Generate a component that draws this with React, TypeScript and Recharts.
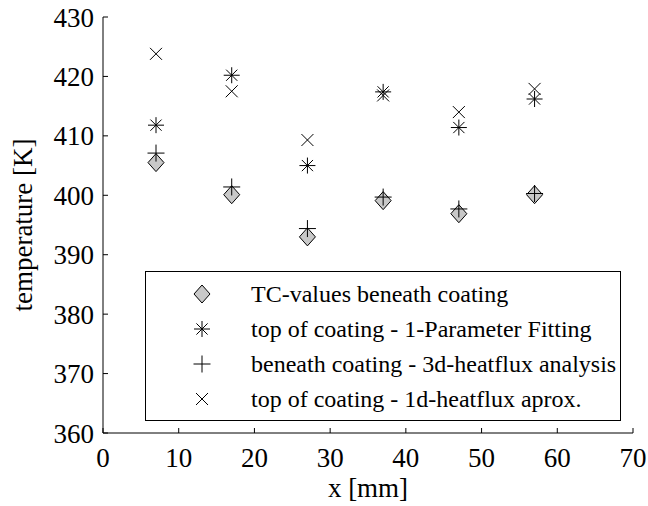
import React from "react";
import {
  ScatterChart,
  Scatter,
  XAxis,
  YAxis,
  Legend,
} from "recharts";

// measurement positions along the sample [mm]
const xPositions = [7, 17, 27, 37, 47, 57];

// temperatures [K]
const tcValues = [405.5, 400.1, 393.0, 399.1, 396.9, 400.1];
const fittingTop = [411.8, 420.2, 405.0, 417.4, 411.4, 416.2];
const heatflux3d = [407.1, 401.4, 394.4, 399.7, 397.7, 400.3];
const heatflux1d = [423.8, 417.5, 409.3, 416.8, 414.0, 417.9];

const xTicks = [0, 10, 20, 30, 40, 50, 60, 70];
const yTicks = [360, 370, 380, 390, 400, 410, 420, 430];

const seriesNames = [
  "TC-values beneath coating",
  "top of coating - 1-Parameter Fitting",
  "beneath coating - 3d-heatflux analysis",
  "top of coating - 1d-heatflux aprox.",
];

const FONT = "Liberation Serif";

const toPoints = (values: number[]) =>
  xPositions.map((x, i) => ({ x, y: values[i] }));

// marker glyphs, MATLAB style
const DiamondMark = ({ cx, cy }: any) => (
  <polygon
    points={`${cx},${cy - 9} ${cx + 8},${cy} ${cx},${cy + 9} ${cx - 8},${cy}`}
    fill="#c8c8c8"
    stroke="#000"
    strokeWidth={1}
  />
);

const StarMark = ({ cx, cy }: any) => {
  const r = 8;
  const d = r * 0.7;
  return (
    <g stroke="#000" strokeWidth={1}>
      <line x1={cx - r} y1={cy} x2={cx + r} y2={cy} />
      <line x1={cx} y1={cy - r} x2={cx} y2={cy + r} />
      <line x1={cx - d} y1={cy - d} x2={cx + d} y2={cy + d} />
      <line x1={cx - d} y1={cy + d} x2={cx + d} y2={cy - d} />
    </g>
  );
};

const PlusMark = ({ cx, cy }: any) => (
  <g stroke="#000" strokeWidth={1}>
    <line x1={cx - 8.5} y1={cy} x2={cx + 8.5} y2={cy} />
    <line x1={cx} y1={cy - 8.5} x2={cx} y2={cy + 8.5} />
  </g>
);

const CrossMark = ({ cx, cy }: any) => (
  <g stroke="#000" strokeWidth={1}>
    <line x1={cx - 6} y1={cy - 6} x2={cx + 6} y2={cy + 6} />
    <line x1={cx - 6} y1={cy + 6} x2={cx + 6} y2={cy - 6} />
  </g>
);

const markers = [DiamondMark, StarMark, PlusMark, CrossMark];

const renderLegend = () => (
  <div
    style={{
      width: 476,
      height: 150,
      boxSizing: "border-box",
      border: "1.5px solid #000",
      background: "#fff",
      position: "relative",
      fontFamily: FONT,
      fontSize: 24,
      color: "#000",
    }}
  >
    {seriesNames.map((name, i) => {
      const Mark = markers[i];
      return (
        <div
          key={name}
          style={{
            position: "absolute",
            left: 0,
            top: 22 + i * 35 - 17,
            height: 34,
            display: "flex",
            alignItems: "center",
          }}
        >
          <svg width={30} height={34} style={{ marginLeft: 41 }}>
            <Mark cx={15} cy={17} />
          </svg>
          <span style={{ marginLeft: 34, whiteSpace: "nowrap" }}>{name}</span>
        </div>
      );
    })}
  </div>
);

export default function App() {
  return (
    <div
      style={{
        position: "absolute",
        left: 0,
        top: 0,
        background: "#fff",
        fontFamily: FONT,
      }}
    >
      <ScatterChart
        width={648}
        height={506}
        margin={{ top: 17, right: 15, bottom: 0, left: 0 }}
      >
        <XAxis
          type="number"
          dataKey="x"
          domain={[0, 70]}
          ticks={xTicks}
          height={73}
          tickSize={-5}
          tickMargin={20}
          stroke="#000"
          tick={{ fill: "#000", fontSize: 27, fontFamily: FONT }}
          label={{
            value: "x [mm]",
            position: "insideBottom",
            offset: 9,
            fill: "#000",
            fontSize: 27,
            fontFamily: FONT,
          }}
        />
        <XAxis
          xAxisId="top"
          orientation="top"
          type="number"
          domain={[0, 70]}
          ticks={xTicks}
          height={0}
          tickSize={-5}
          tick={false}
          stroke="#000"
        />
        <YAxis
          type="number"
          dataKey="y"
          domain={[360, 430]}
          ticks={yTicks}
          width={103}
          tickSize={-5}
          tickMargin={14}
          stroke="#000"
          tick={{ fill: "#000", fontSize: 27, fontFamily: FONT }}
          label={{
            value: "temperature [K]",
            angle: -90,
            position: "insideLeft",
            offset: 22,
            fill: "#000",
            fontSize: 27,
            fontFamily: FONT,
            style: { textAnchor: "middle" },
          }}
        />
        <YAxis
          yAxisId="right"
          orientation="right"
          type="number"
          domain={[360, 430]}
          ticks={yTicks}
          width={0}
          tickSize={-5}
          tick={false}
          stroke="#000"
        />
        <Scatter
          name={seriesNames[0]}
          data={toPoints(tcValues)}
          shape={(p: any) => <DiamondMark {...p} />}
          isAnimationActive={false}
        />
        <Scatter
          name={seriesNames[1]}
          data={toPoints(fittingTop)}
          shape={(p: any) => <StarMark {...p} />}
          isAnimationActive={false}
        />
        <Scatter
          name={seriesNames[2]}
          data={toPoints(heatflux3d)}
          shape={(p: any) => <PlusMark {...p} />}
          isAnimationActive={false}
        />
        <Scatter
          name={seriesNames[3]}
          data={toPoints(heatflux1d)}
          shape={(p: any) => <CrossMark {...p} />}
          isAnimationActive={false}
        />
        <Legend
          layout="horizontal"
          verticalAlign="middle"
          align="center"
          content={renderLegend}
          wrapperStyle={{ left: 145, top: 271, width: 476, height: 150 }}
        />
      </ScatterChart>
    </div>
  );
}
